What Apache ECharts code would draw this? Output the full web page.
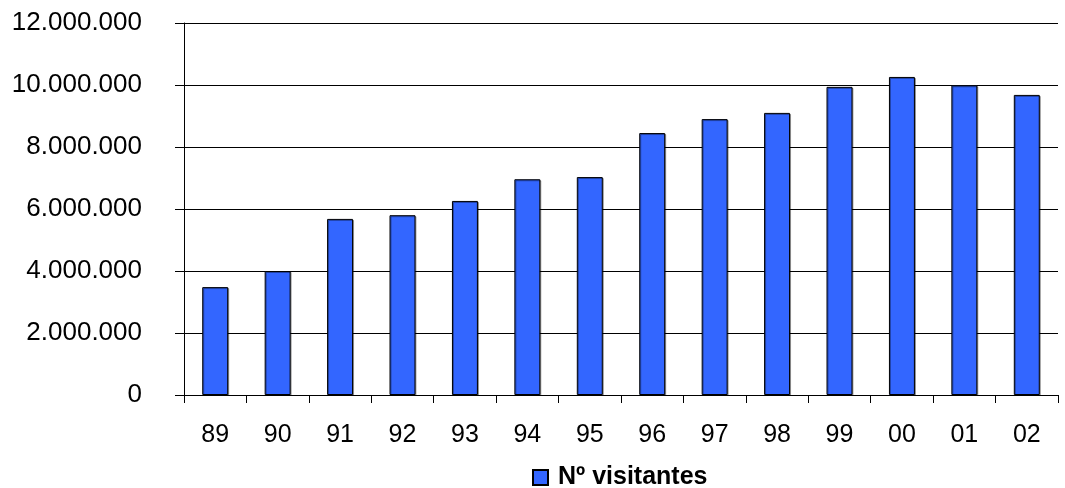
<!DOCTYPE html>
<html lang="es">
<head>
    <meta charset="UTF-8">
    <title>Nº visitantes</title>
    <style>
        html, body { margin: 0; padding: 0; background: #fff; }
    </style>
</head>
<body>
    <div id="main" style="width: 1065px;height:488px;"></div>
    <script src="https://cdn.jsdelivr.net/npm/echarts@6/dist/echarts.min.js"></script>
    <script>
    // años (89 .. 02) y número de visitantes
    var years = ['89', '90', '91', '92', '93', '94', '95', '96', '97', '98', '99', '00', '01', '02'];
    var visitantes = [3480000, 4000000, 5680000, 5800000, 6260000, 6960000, 7030000, 8450000, 8900000, 9100000, 9940000, 10260000, 9990000, 9680000];
    var seriesName = 'Nº visitantes';

    // 12000000 -> "12.000.000"
    function puntos(v) {
        return String(v).replace(/\B(?=(\d{3})+(?!\d))/g, '.');
    }

    var myChart = echarts.init(document.getElementById('main'));
    var option = {
        animation: false,
        textStyle: { fontFamily: 'Liberation Sans, Arial, sans-serif', color: '#000' },
        grid: {
            left: 184,
            right: 7,
            top: 23,
            bottom: 93
        },
        legend: {
            data: [seriesName],
            top: 465,
            left: 532,
            padding: 0,
            icon: 'rect',
            itemWidth: 15,
            itemHeight: 15,
            textStyle: { fontSize: 25, fontWeight: 'bold', color: '#000', padding: [0, 0, 0, 5] }
        },
        xAxis: {
            type: 'category',
            data: years,
            boundaryGap: true,
            axisLine: { lineStyle: { color: '#000', width: 1 } },
            axisTick: { show: true, interval: 0, length: 8, lineStyle: { color: '#000' } },
            axisLabel: { fontSize: 25, color: '#000', margin: 28, interval: 0 }
        },
        yAxis: {
            type: 'value',
            min: 0,
            max: 12000000,
            interval: 2000000,
            axisLine: { show: true, lineStyle: { color: '#000', width: 1 } },
            axisTick: { show: true, length: 9, lineStyle: { color: '#000' } },
            splitLine: { show: true, lineStyle: { color: '#000', width: 1 } },
            axisLabel: { fontSize: 26, color: '#000', margin: 42, formatter: puntos }
        },
        series: [
            {
                name: seriesName,
                type: 'bar',
                data: visitantes,
                barWidth: '41.6%',
                itemStyle: {
                    color: '#3366FF',
                    borderColor: '#000',
                    borderWidth: 1,
                    shadowColor: 'rgba(0,0,0,0.35)',
                    shadowOffsetX: 1,
                    shadowOffsetY: 1
                }
            }
        ]
    };
    myChart.setOption(option);
    </script>
</body>
</html>
